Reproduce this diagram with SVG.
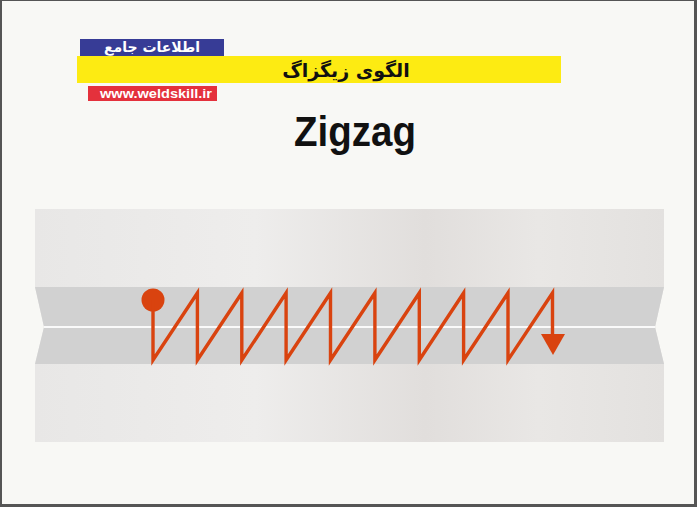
<svg xmlns="http://www.w3.org/2000/svg" width="697" height="507" viewBox="0 0 697 507">
<style>
.fa{font-family:"DejaVu Sans","Noto Sans",sans-serif;font-weight:bold;}
.en{font-family:"Liberation Sans","Arial",sans-serif;font-weight:bold;}
.zz{fill:none;stroke:#d9430f;stroke-width:3.4;stroke-linejoin:miter;stroke-linecap:butt;}
</style>
<defs>
<linearGradient id="plate" x1="0" y1="0" x2="1" y2="0">
<stop offset="0" stop-color="#e8e7e6"/>
<stop offset="0.35" stop-color="#eeedec"/>
<stop offset="0.62" stop-color="#e1dedc"/>
<stop offset="0.8" stop-color="#e9e7e5"/>
<stop offset="1" stop-color="#e3e1df"/>
</linearGradient>
</defs>
<rect x="0" y="0" width="697" height="507" fill="#555"/>
<rect x="2" y="1" width="692" height="503" fill="#f8f8f5"/>
<g id="header">
<rect x="80" y="39" width="144" height="17" fill="#373c96"/>
<text class="fa" x="152" y="52" font-size="14" fill="#fff" text-anchor="middle">اطلاعات جامع</text>
<rect x="77" y="56" width="484" height="27" fill="#fdeb12"/>
<text class="fa" x="346" y="77" font-size="19" fill="#111" text-anchor="middle">الگوی زیگزاگ</text>
<rect x="88" y="86" width="129" height="15" fill="#e4313c"/>
<text class="en" x="156" y="98" font-size="12" fill="#fff" text-anchor="middle" textLength="112" lengthAdjust="spacingAndGlyphs">www.weldskill.ir</text>
</g>
<g id="title">
<text class="en" x="355" y="146" font-size="42" font-weight="900" fill="#111" text-anchor="middle" textLength="122" lengthAdjust="spacingAndGlyphs">Zigzag</text>
</g>
<g id="plate-group">
<polygon points="35,209 664,209 664,287 655,327 664,364 664,442 35,442 35,364 44,327 35,287" fill="url(#plate)"/>
<polygon points="35,287 664,287 655,327 664,364 35,364 44,327" fill="#d1d1d1"/>
<line x1="44" y1="327" x2="655" y2="327" stroke="#fafafa" stroke-width="2"/>
</g>
<g id="connectors">
<circle cx="153" cy="300" r="11.5" fill="#d9430f"/>
<path class="zz" d="M153,300 V360 L197.4,293 V360 L241.8,293 V360 L286.1,293 V360 L330.5,293 V360 L374.9,293 V360 L419.3,293 V360 L463.6,293 V360 L508,293 V360 L552.5,293 V338"/>
<polygon points="541,334 565,334 553,355" fill="#d9430f"/>
</g>
</svg>
